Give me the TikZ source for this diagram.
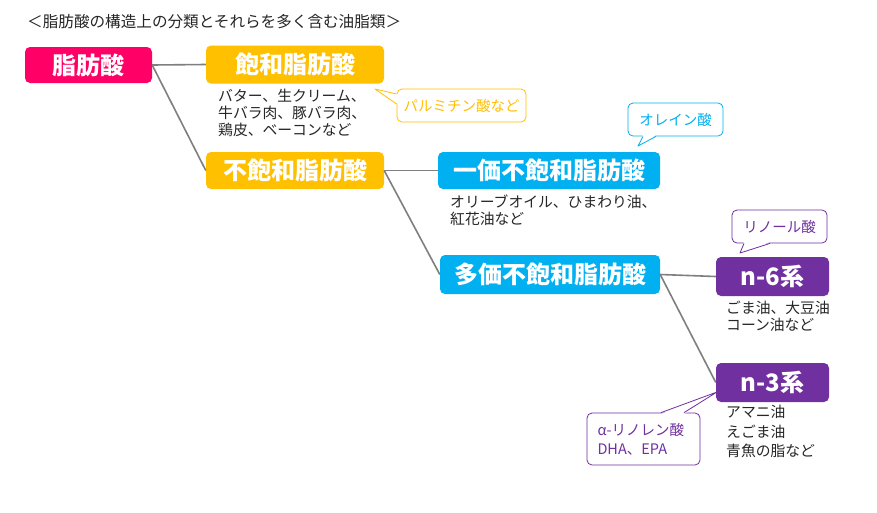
\documentclass[tikz,border=0pt]{standalone}
\usepackage{fontspec}
\setmainfont{Noto Sans CJK JP}
\definecolor{cpink}{HTML}{FF0066}
\definecolor{corange}{HTML}{FFC000}
\definecolor{cblue}{HTML}{00B0F0}
\definecolor{cpurple}{HTML}{7030A0}
\definecolor{cline}{HTML}{7F7F7F}
\definecolor{ctext}{HTML}{262626}
\tikzset{
  catbox/.style={fill=#1, rounded corners=5pt, text=white, inner sep=0pt,
    font=\fontsize{24}{27}\selectfont\bfseries},
  link/.style={draw=cline, line width=1.6pt},
  note/.style={anchor=north west, align=left, inner sep=0pt, text=ctext,
    font=\fontsize{14.8}{17}\selectfont},
  callout/.style={draw=#1, fill=white, rounded corners=5pt, line width=0.8pt,
    inner sep=0pt, text=#1, font=\fontsize{14.5}{19}\selectfont, align=left},
}
\begin{document}
\begin{tikzpicture}[x=1pt,y=-1pt]
\useasboundingbox[fill=white] (0,0) rectangle (877,512);

\node[anchor=west, inner sep=0pt, text=ctext, font=\fontsize{15.6}{18}\selectfont] (title) at (27,22) {＜脂肪酸の構造上の分類とそれらを多く含む油脂類＞};

% main boxes
\node[catbox=cpink, minimum width=127pt, minimum height=36pt] (fa) at (88.5,65) {脂肪酸};
\node[catbox=corange, minimum width=178pt, minimum height=38pt] (sat) at (295,64.5) {飽和脂肪酸};
\node[catbox=corange, minimum width=178pt, minimum height=37pt] (unsat) at (295,170.5) {不飽和脂肪酸};
\node[catbox=cblue, minimum width=222pt, minimum height=37pt] (mono) at (549,170.5) {一価不飽和脂肪酸};
\node[catbox=cblue, minimum width=220pt, minimum height=39pt] (poly) at (550,274.5) {多価不飽和脂肪酸};
\node[catbox=cpurple, minimum width=113pt, minimum height=39pt] (n6) at (772.5,276.5) {n-6系};
\node[catbox=cpurple, minimum width=113pt, minimum height=39pt] (n3) at (772.5,382.5) {n-3系};

% connectors
\draw[link] (fa.east) -- (sat.west);
\draw[link] (fa.east) -- (unsat.west);
\draw[link] (unsat.east) -- (mono.west);
\draw[link] (unsat.east) -- (poly.west);
\draw[link] (poly.east) -- (n6.west);
\draw[link] (poly.east) -- (n3.west);

% notes
\node[note] (satnote) at (218,89) {バター、生クリーム、\\牛バラ肉、豚バラ肉、\\鶏皮、ベーコンなど};
\node[note] (mononote) at (450,195) {オリーブオイル、ひまわり油、\\紅花油など};
\node[note] (n6note) at (726,301) {ごま油、大豆油\\コーン油など};
\node[note, font=\fontsize{14.8}{19.5}\selectfont] (n3note) at (726,405) {アマニ油\\えごま油\\青魚の脂など};

% callouts
\node[callout=corange, minimum width=129pt, minimum height=33pt] (c1) at (461.5,105.5) {パルミチン酸など};
\coordinate (t1) at (375,89);
\fill[white] (398,94) -- (t1) -- (398,104) -- cycle;
\draw[corange, line width=0.8pt, line join=round] (c1.west |- 0,94) -- (t1) -- (c1.west |- 0,104);

\node[callout=cblue, minimum width=95pt, minimum height=33pt] (c2) at (675.5,119.5) {オレイン酸};
\coordinate (t2) at (638,146);
\fill[white] (643,135) -- (t2) -- (656,135) -- cycle;
\draw[cblue, line width=0.8pt, line join=round] (c2.south -| 643,0) -- (t2) -- (c2.south -| 656,0);

\node[callout=cpurple, minimum width=95pt, minimum height=33pt] (c3) at (779.5,226.5) {リノール酸};
\coordinate (t3) at (740,253);
\fill[white] (744,242) -- (t3) -- (770,242) -- cycle;
\draw[cpurple, line width=0.8pt, line join=round] (c3.south -| 744,0) -- (t3) -- (c3.south -| 770,0);

\node[callout=cpurple, minimum width=113pt, minimum height=52pt, text width=92pt, align=left] (c4) at (643.5,439) {α-リノレン酸\\DHA、EPA};
\coordinate (t4) at (717,392);
\fill[white] (661,414) -- (t4) -- (684,414) -- cycle;
\draw[cpurple, line width=0.8pt, line join=round] (c4.north -| 661,0) -- (t4) -- (c4.north -| 684,0);
\end{tikzpicture}
\end{document}
